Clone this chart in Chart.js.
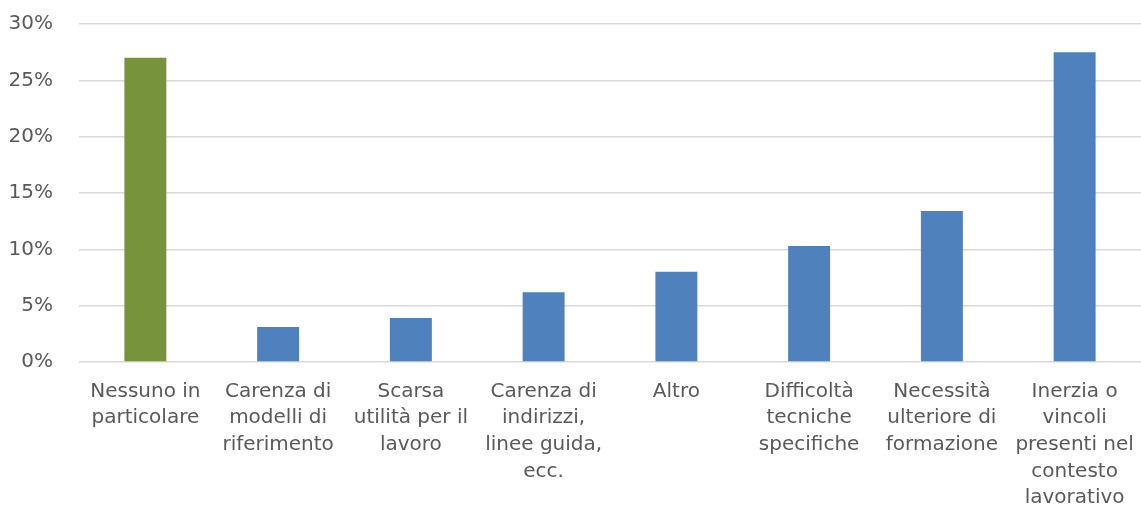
<!DOCTYPE html>
<html>
<head>
<meta charset="utf-8">
<script src="https://cdn.jsdelivr.net/npm/chart.js@4/dist/chart.umd.min.js"></script>
<style>
  html, body { margin: 0; padding: 0; background: #fff; }
  #wrap { width: 1141px; height: 507px; }
</style>
</head>
<body>
<div id="wrap"><canvas id="ostacoli"></canvas></div>
<script>
// Ostacoli indicati (% risposte)
const categorie = [
    ['Nessuno in', 'particolare'],
    ['Carenza di', 'modelli di', 'riferimento'],
    ['Scarsa', 'utilità per il', 'lavoro'],
    ['Carenza di', 'indirizzi,', 'linee guida,', 'ecc.'],
    ['Altro'],
    ['Difficoltà', 'tecniche', 'specifiche'],
    ['Necessità', 'ulteriore di', 'formazione'],
    ['Inerzia o', 'vincoli', 'presenti nel', 'contesto', 'lavorativo']
];
const percentuali = [27.0, 3.1, 3.9, 6.2, 8.0, 10.3, 13.4, 27.5];
const coloriBarre = ['#77933C', '#4F81BD', '#4F81BD', '#4F81BD', '#4F81BD', '#4F81BD', '#4F81BD', '#4F81BD'];
const tickY = [0, 5, 10, 15, 20, 25, 30];

const ctx = document.getElementById('ostacoli');

new Chart(ctx, {
    type: 'bar',
    data: {
        labels: categorie,
        datasets: [{
            data: percentuali,
            backgroundColor: coloriBarre,
            borderWidth: 0,
            barPercentage: 0.316,
            categoryPercentage: 1
        }]
    },
    options: {
        responsive: true,
        maintainAspectRatio: false,
        animation: false,
        layout: { padding: { top: 24, left: 0, right: 0, bottom: 0 } },
        plugins: {
            legend: { display: false },
            tooltip: { enabled: false }
        },
        scales: {
            x: {
                grid: { display: false, drawTicks: false },
                border: { display: false },
                ticks: {
                    color: '#595959',
                    font: { family: 'DejaVu Sans', size: 20, lineHeight: 1.335 },
                    padding: 16,
                    maxRotation: 0,
                    autoSkip: false
                },
                afterFit: (scale) => {
                    scale.height = 145;
                    scale.paddingLeft = 0;
                    scale.paddingRight = 0;
                }
            },
            y: {
                min: 0,
                max: 30,
                afterBuildTicks: (scale) => {
                    scale.ticks = tickY.map(v => ({ value: v }));
                },
                grid: { color: '#d9d9d9', lineWidth: 1.5, drawTicks: false },
                border: { display: false },
                ticks: {
                    color: '#595959',
                    font: { family: 'DejaVu Sans', size: 20 },
                    padding: 26,
                    callback: (v) => v + '%'
                },
                afterFit: (scale) => {
                    scale.width = 79;
                    scale.paddingTop = 0;
                    scale.paddingBottom = 0;
                }
            }
        }
    }
});
</script>
</body>
</html>
